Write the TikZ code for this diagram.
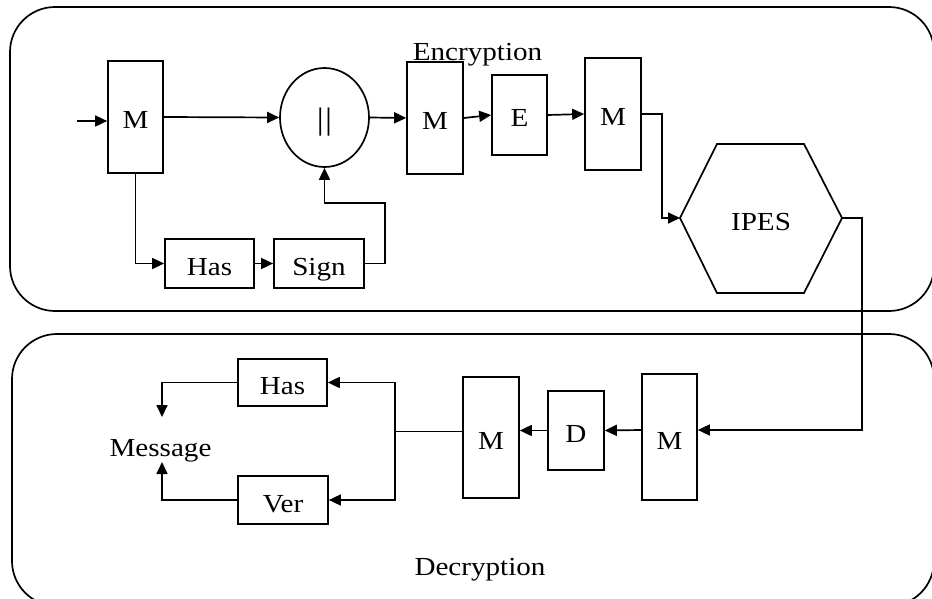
\documentclass[tikz,border=0pt]{standalone}
\usepackage{fontspec}
\setmainfont{Liberation Serif}[FakeStretch=1.12]
\usetikzlibrary{arrows.meta,shapes.geometric}
\begin{document}
\begin{tikzpicture}[x=1pt,y=-1pt,
  every node/.style={font=\fontsize{26}{30}\selectfont},
  blk/.style={draw,line width=1.7pt,inner sep=0pt,fill=white,text height=28pt,text depth=4pt},
  cont/.style={draw,line width=1.7pt,rounded corners=45pt},
  conn/.style={line width=1.7pt},
  arr/.style={line width=1.7pt,-{Triangle[length=12pt,width=11pt]}}]
\clip (0,0) rectangle (932,599);
\useasboundingbox (0,0) rectangle (932,599);
% containers
\draw[cont] (10,7) rectangle (934,311);
\draw[cont] (12,334) rectangle (934,606);
% top row
\node[blk,minimum width=55pt,minimum height=112pt] (m1) at (135.5,117) {M};
\node[draw,line width=1.7pt,ellipse,inner sep=0pt,minimum width=89pt,minimum height=99pt] (circ) at (324.5,117.5) {};
\node[font=\fontsize{31}{34}\selectfont,inner sep=0pt] (bars) at (324.5,122) {|\kern1.5pt|};
\node[blk,minimum width=56pt,minimum height=112pt] (m2) at (435,118) {M};
\node[blk,minimum width=55pt,minimum height=80pt] (e) at (519.5,115) {E};
\node[blk,minimum width=56pt,minimum height=112pt] (m3) at (613,114) {M};
\node[blk,minimum width=89pt,minimum height=49pt] (has1) at (209.5,263.5) {Has};
\node[blk,minimum width=90pt,minimum height=49pt] (sign) at (319,263.5) {Sign};
\node[anchor=base] (enc) at (477.5,60.5) {Encryption};
\node[anchor=base] (dec) at (480,575) {Decryption};
% hexagon
\coordinate (hexL) at (680,218);
\coordinate (hexR) at (842,218);
\draw[line width=1.7pt] (hexL) -- (717,144) -- (804,144) -- (hexR) -- (804,293) -- (717,293) -- cycle;
\node[anchor=base] (ipes) at (761,230) {IPES};
% bottom row
\node[blk,minimum width=55pt,minimum height=126pt] (m5) at (669.5,437) {M};
\node[blk,minimum width=56pt,minimum height=79pt] (d) at (576,430.5) {D};
\node[blk,minimum width=56pt,minimum height=121pt] (m4) at (491,437.5) {M};
\node[blk,minimum width=89pt,minimum height=47pt] (has2) at (282.5,382.5) {Has};
\node[blk,minimum width=90pt,minimum height=48pt] (ver) at (283,500) {Ver};
\node[anchor=base] (msg) at (160.5,456) {Message};
\coordinate (msgT) at (162,417);
\coordinate (msgB) at (162,462);
\coordinate (in1) at (77,121);
\coordinate (jn) at (395,431.5);
% connectors top
\draw[arr] (in1) -- (in1 -| m1.west);
\draw[arr] (m1.east) -- (circ.west);
\draw[arr] (circ.east) -- (m2.west);
\draw[arr] (m2.east) -- (e.west);
\draw[arr] (e.east) -- (m3.west);
\draw[arr] (m3.east) -- ++(20,0) |- (hexL);
\draw[arr] (m1.south) |- (has1.west);
\draw[arr] (has1.east) -- (sign.west);
\draw[arr] (sign.east) -- ++(20,0) -- ++(0,-60.5) -| (circ.south);
% connectors bottom
\draw[arr] (hexR) -- ++(20,0) |- ([yshift=7pt]m5.east);
\draw[arr] ([yshift=7pt]m5.west) -- (d.east);
\draw[arr] (d.west) -- (d.west -| m4.east);
\draw[conn] (jn -| m4.west) -- (jn);
\draw[arr] (jn) |- (has2.east);
\draw[arr] (jn) |- (ver.east);
\draw[arr] (has2.west) -| (msgT);
\draw[arr] (ver.west) -| (msgB);
\end{tikzpicture}
\end{document}
